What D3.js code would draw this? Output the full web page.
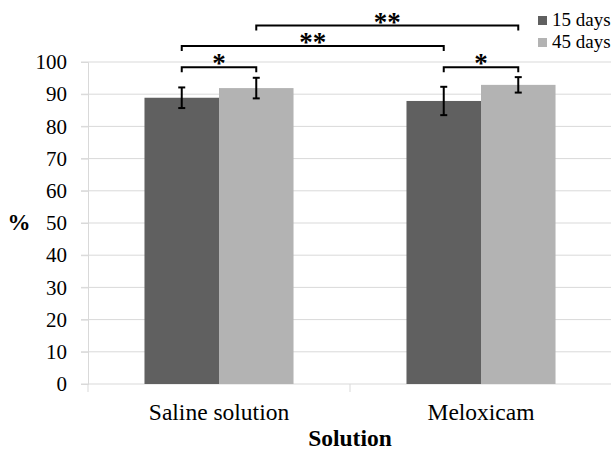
<!DOCTYPE html>
<html>
<head>
<meta charset="utf-8">
<script src="https://cdn.jsdelivr.net/npm/d3@7"></script>
<style>
  body { margin: 0; background: #fff; }
  svg text { font-family: "Liberation Serif", "Times New Roman", serif; fill: #000; }
  .grid line { stroke: #d9d9d9; stroke-width: 1; }
</style>
</head>
<body>
<svg id="chart" width="611" height="452"></svg>
<script>
// chart values
const categories = ["Saline solution", "Meloxicam"];
const series = ["15 days", "45 days"];
const means15 = [88.9, 87.9];
const means45 = [91.9, 92.9];
const err15 = [3.2, 4.4];
const err45 = [3.2, 2.4];
const yTicks = [0, 10, 20, 30, 40, 50, 60, 70, 80, 90, 100];
const colors = ["#606060", "#b3b3b3"];
// significance brackets: [category, series] -> [category, series], level in % units
const brackets = [
  { from: [0, 0], to: [0, 1], level: 98.4, label: "*" },
  { from: [1, 0], to: [1, 1], level: 98.4, label: "*" },
  { from: [0, 0], to: [1, 0], level: 105, label: "**" },
  { from: [0, 1], to: [1, 1], level: 111.3, label: "**" }
];

const margin = { top: 62, right: -1, bottom: 68, left: 88 };
const width = 611 - margin.left - margin.right;
const height = 452 - margin.top - margin.bottom;
const serif = '"Liberation Serif", "Times New Roman", serif';

const svg = d3.select("#chart");
const g = svg.append("g").attr("transform", "translate(" + margin.left + "," + margin.top + ")");

const x0 = d3.scaleBand().domain(categories).range([0, width]);
const x1 = d3.scaleBand().domain(series).range([0, x0.bandwidth()]).paddingOuter(0.758);
const y = d3.scaleLinear().domain([0, 100]).range([height, 0]);

// gridlines
g.append("g").attr("class", "grid")
  .selectAll("line").data(yTicks).enter().append("line")
  .attr("x1", -7).attr("x2", width)
  .attr("y1", d => y(d)).attr("y2", d => y(d));

// y axis
const yAxis = g.append("g")
  .call(d3.axisLeft(y).tickValues(yTicks).tickSize(7).tickPadding(14))
  .attr("font-family", serif).attr("font-size", 21);
yAxis.select(".domain").attr("stroke", "#d9d9d9");
yAxis.selectAll(".tick line").attr("stroke", "#d9d9d9");

// x axis
const xAxis = g.append("g").attr("transform", "translate(0," + height + ")")
  .call(d3.axisBottom(x0).tickSize(0).tickPadding(19))
  .attr("font-family", serif).attr("font-size", 23.5);
xAxis.select(".domain").remove();
xAxis.selectAll("line.sep")
  .data([0].concat(categories.map(c => x0(c) + x0.bandwidth())))
  .enter().append("line").attr("class", "sep")
  .attr("x1", d => d).attr("x2", d => d).attr("y1", 0).attr("y2", 8)
  .attr("stroke", "#d9d9d9");

// bars
const rows = categories.map((c, i) => ({
  cat: c,
  vals: [
    { s: series[0], v: means15[i], e: err15[i], k: 0 },
    { s: series[1], v: means45[i], e: err45[i], k: 1 }
  ]
}));

const grp = g.selectAll("g.cat").data(rows).enter().append("g")
  .attr("class", "cat")
  .attr("transform", d => "translate(" + x0(d.cat) + ",0)");

grp.selectAll("rect").data(d => d.vals).enter().append("rect")
  .attr("x", d => x1(d.s)).attr("width", x1.bandwidth())
  .attr("y", d => y(d.v)).attr("height", d => height - y(d.v))
  .attr("fill", d => colors[d.k]);

// error bars
const eb = grp.selectAll("g.err").data(d => d.vals).enter().append("g")
  .attr("class", "err").attr("stroke", "#000").attr("stroke-width", 2);
eb.append("line")
  .attr("x1", d => x1(d.s) + x1.bandwidth() / 2).attr("x2", d => x1(d.s) + x1.bandwidth() / 2)
  .attr("y1", d => y(d.v + d.e)).attr("y2", d => y(d.v - d.e));
eb.selectAll("line.cap").data(d => [[d, d.v + d.e], [d, d.v - d.e]]).enter().append("line")
  .attr("class", "cap")
  .attr("x1", d => x1(d[0].s) + x1.bandwidth() / 2 - 3.5)
  .attr("x2", d => x1(d[0].s) + x1.bandwidth() / 2 + 3.5)
  .attr("y1", d => y(d[1])).attr("y2", d => y(d[1]));

// brackets
const cx = p => x0(categories[p[0]]) + x1(series[p[1]]) + x1.bandwidth() / 2;
const br = g.selectAll("g.br").data(brackets).enter().append("g").attr("class", "br");
br.append("path")
  .attr("fill", "none").attr("stroke", "#000").attr("stroke-width", 2)
  .attr("d", d => {
    const a = cx(d.from), b = cx(d.to), yy = y(d.level);
    return "M" + a + "," + (yy + 5) + "V" + yy + "H" + b + "V" + (yy + 5);
  });
br.append("text")
  .attr("x", d => (cx(d.from) + cx(d.to)) / 2)
  .attr("y", d => y(d.level) + 5)
  .attr("text-anchor", "middle")
  .style("font-size", "27px").style("font-weight", "bold")
  .text(d => d.label);

// axis titles
svg.append("text")
  .attr("x", 19).attr("y", margin.top + height / 2 + 7)
  .attr("text-anchor", "middle")
  .style("font-size", "23px").style("font-weight", "bold")
  .text("%");
svg.append("text")
  .attr("x", margin.left + width / 2).attr("y", 446)
  .attr("text-anchor", "middle")
  .style("font-size", "23.5px").style("font-weight", "bold")
  .text("Solution");

// legend
const lg = svg.append("g").attr("transform", "translate(538,16)");
const li = lg.selectAll("g").data(series).enter().append("g")
  .attr("transform", (d, i) => "translate(0," + i * 22 + ")");
li.append("rect").attr("width", 9).attr("height", 9).attr("fill", (d, i) => colors[i]);
li.append("text").attr("x", 14).attr("y", 10)
  .style("font-size", "19px").text(d => d);
</script>
</body>
</html>
